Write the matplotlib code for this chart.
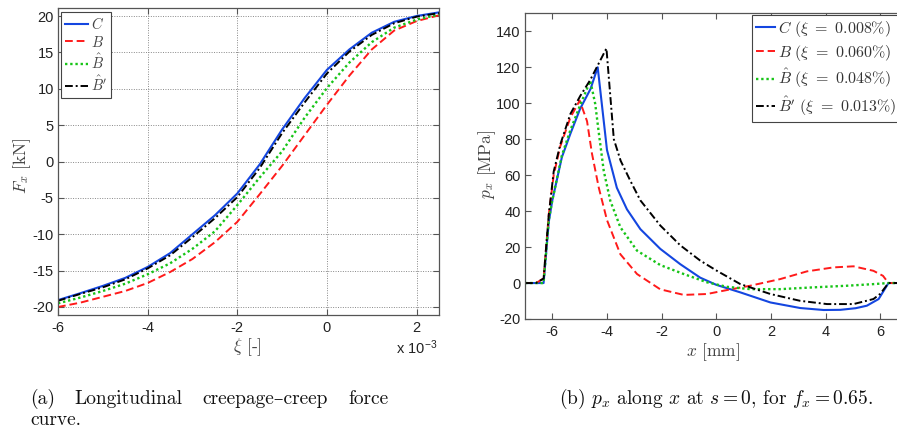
import matplotlib
matplotlib.use("Agg")
import matplotlib.pyplot as plt
from matplotlib.lines import Line2D

plt.rcParams['mathtext.fontset'] = 'cm'
plt.rcParams['axes.unicode_minus'] = False

# ---------------- data: (a) creepage - creep force ----------------
xi = [-6, -5.5, -5, -4.5, -4, -3.5, -3, -2.5, -2, -1.5, -1, -0.5, 0, 0.5, 1, 1.5, 2, 2.5]  # x 1e-3
Fx_C = [-19.05, -18.1, -17.1, -16.0, -14.5, -12.6, -10.0, -7.4, -4.4, -0.4, 4.4, 8.7, 12.6, 15.4, 17.7, 19.2, 20.0, 20.5]
Fx_B = [-20.0, -19.4, -18.6, -17.8, -16.7, -15.2, -13.4, -11.1, -8.3, -4.5, -0.6, 3.6, 7.8, 11.8, 15.4, 18.0, 19.3, 20.1]
Fx_Bh = [-19.5, -18.7, -17.8, -16.8, -15.5, -14.0, -12.0, -9.6, -6.0, -2.2, 1.4, 6.0, 10.1, 13.6, 16.4, 18.4, 19.5, 20.2]
Fx_Bhp = [-19.15, -18.2, -17.3, -16.2, -14.7, -12.9, -10.4, -7.8, -4.9, -0.9, 3.9, 8.1, 12.1, 15.1, 17.4, 19.0, 19.9, 20.4]

# ---------------- data: (b) px along x ----------------
x_C = [-7, -6.32, -6.13, -6.0, -5.65, -5.34, -4.98, -4.6, -4.34, -4.0, -3.64, -3.27, -2.78, -2.05,
       -1.32, -0.59, 0, 0.88, 1.98, 3.07, 3.93, 4.54, 5.1, 5.51, 5.94, 6.3, 7]
p_C = [0, 0, 34, 46, 70, 83, 97, 108, 120, 74, 53, 41, 30, 19, 10.5, 3, -1, -5.2, -10.8, -13.9,
       -15, -14.9, -14, -12.6, -8.9, 0, 0]

x_B = [-7, -6.6, -6.32, -6.13, -5.95, -5.71, -5.34, -5.0, -4.73, -4.55, -4.3, -4.0, -3.51, -2.9,
       -2.05, -1.19, -0.34, 0.39, 1.24, 2.34, 3.32, 4.29, 5.02, 5.75, 6.1, 6.3, 7]
p_B = [0, 0, 2.5, 38, 60, 76, 92, 101.5, 90, 72, 53, 35, 16, 5, -3.5, -6.6, -6.1, -3.9, -1.5, 2.2,
       6.5, 8.7, 9.3, 6.8, 4, 0, 0]

x_Bh = [-7, -6.32, -6.13, -6.0, -5.65, -5.34, -4.98, -4.61, -4.43, -4.31, -4.12, -3.88, -3.51, -2.9,
        -2.05, -1.19, -0.34, 0.39, 1.24, 2.34, 3.56, 4.78, 5.75, 6.3, 7]
p_Bh = [0, 0, 35, 46, 71, 85, 99, 112.5, 99.6, 84.8, 62.5, 45.8, 31, 18, 10, 5, 0.4, -2.1, -3.4,
        -3.4, -2.4, -1.5, -0.6, 0, 0]

x_Bhp = [-7, -6.6, -6.32, -6.13, -5.95, -5.71, -5.34, -4.98, -4.61, -4.02, -3.75, -3.5, -3.15, -2.78,
         -2.05, -1.32, -0.59, 0, 0.88, 1.98, 3.07, 4.05, 5.02, 5.75, 6.0, 6.3, 7]
p_Bhp = [0, 0, 2.5, 38, 62, 77, 94, 104, 113, 130.5, 80, 68, 57, 46, 32, 21, 12.5, 7, -0.6, -6.1,
         -9.9, -11.7, -11.7, -8.9, -6, 0, 0]

labels_a = [r'$C$', r'$B$', r'$\hat{B}$', r"$\hat{B}'$"]
labels_b = [r'$C\ (\xi\ =\ 0.008\%)$', r'$B\ (\xi\ =\ 0.060\%)$',
            r'$\hat{B}\ (\xi\ =\ 0.048\%)$', r"$\hat{B}'\ (\xi\ =\ 0.013\%)$"]

# ---------------- styles ----------------
W, H = 897, 432
blue, red, green, black = '#1446e0', '#ff1a1a', '#17c417', '#000000'
styles = [dict(color=blue, ls='-', lw=1.5),
          dict(color=red, ls=(0, (4, 2)), lw=1.4),
          dict(color=green, ls=(0, (1, 1.2)), lw=1.7),
          dict(color=black, ls=(0, (4, 1.5, 1, 1.5)), lw=1.4)]
axcol = '#555555'
tickfont = dict(family='Liberation Sans', size=10.5)
serif = ['cmr10', 'DejaVu Serif']
labsize = 12.5


def frac_rect(l, t, r, b):
    return [l / W, 1 - b / H, (r - l) / W, (b - t) / H]


fig = plt.figure(figsize=(W / 100, H / 100), dpi=100)

# ---------------- (a) ----------------
ax1 = fig.add_axes(frac_rect(58, 8, 439, 315))
for y, st in zip([Fx_C, Fx_B, Fx_Bh, Fx_Bhp], styles):
    ax1.plot([v * 1e-3 for v in xi], y, **st)
ax1.set_xlim(-6e-3, 2.5e-3)
ax1.set_ylim(-21.1, 21.1)
ax1.set_xticks([-6e-3, -4e-3, -2e-3, 0, 2e-3])
ax1.set_xticklabels(['-6', '-4', '-2', '0', '2'])
ax1.set_yticks([-20, -15, -10, -5, 0, 5, 10, 15, 20])
ax1.set_yticklabels(['-20', '-15', '-10', '-5', '0', '5', '10', '15', '20'])
ax1.grid(True, ls=(0, (1, 1.5)), color='#888888', lw=0.7)
ax1.tick_params(direction='in', length=4, color=axcol, labelcolor='#222222', top=True, right=True)
ax1.tick_params(axis='x', pad=4)
ax1.tick_params(axis='y', pad=3)
for lab in ax1.get_xticklabels() + ax1.get_yticklabels():
    lab.set_fontfamily(tickfont['family'])
    lab.set_fontsize(tickfont['size'])
for s in ax1.spines.values():
    s.set_color(axcol)
    s.set_linewidth(0.9)
fig.text(22 / W, 1 - 166 / H, r'$F_x$ [kN]', rotation=90, ha='center', va='center',
         fontsize=labsize, color='#444444', family=serif)
fig.text(247 / W, 1 - 347 / H, r'$\xi$ [-]', ha='center', va='center',
         fontsize=labsize, color='#444444', family=serif)
fig.text(438 / W, 1 - 354 / H, r'x 10$^{\mathregular{-3}}$', ha='right', va='baseline',
         fontsize=10.5, color='#222222', family='Liberation Sans')
handles = [Line2D([], [], **st) for st in styles]
leg1 = ax1.legend(handles, labels_a, loc='upper left',
                  bbox_to_anchor=(61 / W, 1 - 12 / H), bbox_transform=fig.transFigure,
                  fontsize=10.5, handlelength=1.6, handletextpad=0.2, borderpad=0.25,
                  labelspacing=0.2, borderaxespad=0, fancybox=False, framealpha=1,
                  edgecolor='#444444')
leg1.get_frame().set_linewidth(0.8)
for t in leg1.get_texts():
    t.set_color('#444444')

# ---------------- (b) ----------------
ax2 = fig.add_axes(frac_rect(525, 13.3, 907.6, 319))
for (xx, yy), st in zip([(x_C, p_C), (x_B, p_B), (x_Bh, p_Bh), (x_Bhp, p_Bhp)], styles):
    ax2.plot(xx, yy, **st)
ax2.set_xlim(-7, 7)
ax2.set_ylim(-20, 150)
ax2.set_xticks([-6, -4, -2, 0, 2, 4, 6])
ax2.set_xticklabels(['-6', '-4', '-2', '0', '2', '4', '6'])
ax2.set_yticks([-20, 0, 20, 40, 60, 80, 100, 120, 140])
ax2.set_yticklabels(['-20', '0', '20', '40', '60', '80', '100', '120', '140'])
ax2.tick_params(direction='in', length=4, color=axcol, labelcolor='#222222', top=True, right=True)
ax2.tick_params(axis='x', pad=4)
ax2.tick_params(axis='y', pad=3)
for lab in ax2.get_xticklabels() + ax2.get_yticklabels():
    lab.set_fontfamily(tickfont['family'])
    lab.set_fontsize(tickfont['size'])
for s in ax2.spines.values():
    s.set_color(axcol)
    s.set_linewidth(0.9)
fig.text(487 / W, 1 - 164 / H, r'$p_x$ [MPa]', rotation=90, ha='center', va='center',
         fontsize=labsize, color='#444444', family=serif)
fig.text(713 / W, 1 - 352 / H, r'$x$ [mm]', ha='center', va='center',
         fontsize=labsize, color='#444444', family=serif)
leg2 = ax2.legend(handles, labels_b, loc='upper left',
                  bbox_to_anchor=(752 / W, 1 - 15 / H), bbox_transform=fig.transFigure,
                  fontsize=11.5, handlelength=1.2, handletextpad=0.15, borderpad=0.25,
                  labelspacing=0.25, borderaxespad=0, fancybox=False, framealpha=1,
                  edgecolor='#444444')
leg2.get_frame().set_linewidth(0.8)
for t in leg2.get_texts():
    t.set_color('#333333')

# ---------------- captions ----------------
cap = dict(fontsize=14, color='#111111', family=serif, va='baseline')
fig.text(30 / W, 1 - 404 / H, '(a)', ha='left', **cap)
fig.text(74 / W, 1 - 404 / H, 'Longitudinal', ha='left', **cap)
fig.text(202 / W, 1 - 404 / H, 'creepage\u2013creep', ha='left', **cap)
fig.text(389 / W, 1 - 404 / H, 'force', ha='right', **cap)
fig.text(30 / W, 1 - 425 / H, 'curve.', ha='left', **cap)
fig.text(716 / W, 1 - 404 / H, r'(b) $p_x$ along $x$ at $s = 0$, for $f_x = 0.65$.',
         ha='center', **cap)

fig.savefig('out.png', dpi=100)
